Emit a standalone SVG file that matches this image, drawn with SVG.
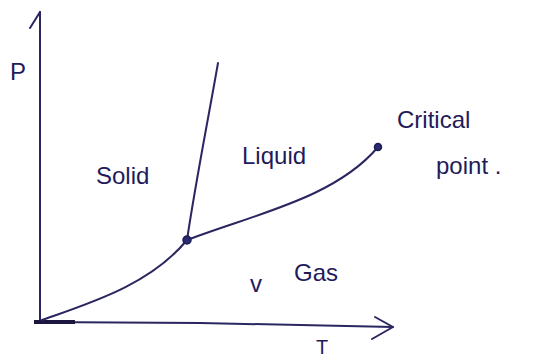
<svg xmlns="http://www.w3.org/2000/svg" width="542" height="357" viewBox="0 0 542 357">
<style>
.ln{fill:none;stroke:#2a2660;stroke-width:2;stroke-linecap:round;stroke-linejoin:round}
.t{font-family:"Liberation Sans",Arial,sans-serif;font-size:24px;fill:#1f1b5a}
.pt{fill:#2a2a70;stroke:#1f1b5a;stroke-width:1.5}
</style>
<rect width="542" height="357" fill="#ffffff"/>
<g id="axes">
<path class="ln" d="M40,12 L40,322"/>
<path class="ln" d="M40,12 L30,28"/>
<path class="ln" d="M35,322 L200,323 L393,327"/>
<path class="ln" d="M375,317 L393,327 L372,339"/>
<path d="M34,322 L75,322" stroke="#1a1640" stroke-width="4" fill="none"/>
</g>
<g id="connectors">
<path id="sublimation" class="ln" d="M42,320 C90,303 150,285 187,240"/>
<path id="fusion" class="ln" d="M187,240 C196,180 208,120 218,63"/>
<path id="vaporization" class="ln" d="M187,240 C255,214 335,198 378,147"/>
</g>
<g id="triple-point"><circle class="pt" cx="187" cy="240" r="4"/></g>
<g id="critical-point"><circle class="pt" cx="378" cy="147" r="3.5"/></g>
<g id="labels">
<text class="t" x="10" y="80">P</text>
<text class="t" x="316" y="354" style="font-size:20px">T</text>
<text class="t" x="96" y="184">Solid</text>
<text class="t" x="242" y="164">Liquid</text>
<text class="t" x="397" y="128">Critical</text>
<text class="t" x="436" y="174">point .</text>
<text class="t" x="250" y="292">v</text>
<text class="t" x="294" y="281">Gas</text>
</g>
</svg>
